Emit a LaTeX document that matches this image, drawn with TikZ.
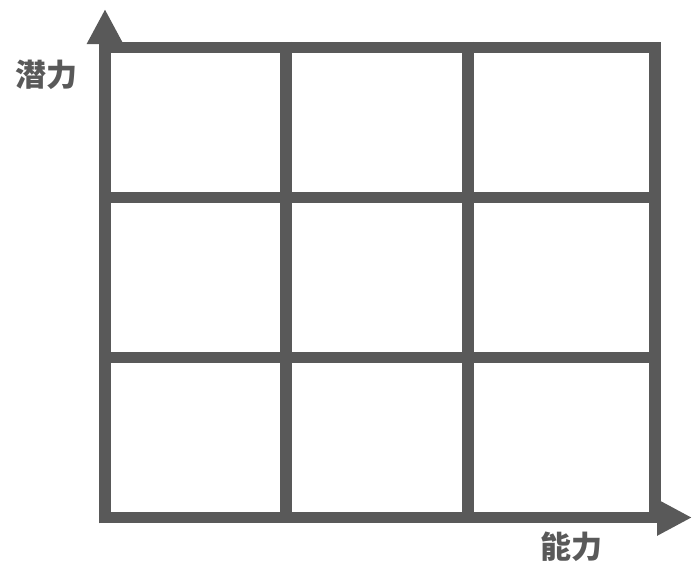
\documentclass[tikz,border=0pt]{standalone}
\usepackage{fontspec}
\newfontfamily\cjk{Noto Sans CJK SC}
\usetikzlibrary{arrows.meta}
\definecolor{gridgray}{HTML}{595959}
\begin{document}
\begin{tikzpicture}[x=1pt,y=-1pt,
  gridline/.style={draw=gridgray,line width=11.5pt,line cap=butt,line join=miter},
  axisline/.style={gridline,-{Triangle[length=35pt,width=34pt]}},
  axislabel/.style={font=\cjk\bfseries\fontsize{31}{31}\selectfont,text=gridgray,inner sep=0pt}]
\useasboundingbox (0,0) rectangle (692,568);
% grid coordinates
\coordinate (tl) at (105,47.5);
\coordinate (br) at (655,517.5);
% outer frame
\draw[gridline] (tl) rectangle (br);
% inner lines
\draw[gridline] (286,41.75) -- (286,523.25);
\draw[gridline] (468,41.75) -- (468,523.25);
\draw[gridline] (99.25,197.5) -- (660.75,197.5);
\draw[gridline] (99.25,357.5) -- (660.75,357.5);
% axes
\coordinate (origin) at (105,523.25);
\coordinate (ytip) at (105,9);
\coordinate (xorigin) at (99.25,517.5);
\coordinate (xtip) at (692,517.5);
\draw[axisline] (origin) -- (ytip);
\draw[axisline] (xorigin) -- (xtip);
% labels
\node[axislabel] (ylab) at (46,75) {潜力};
\node[axislabel] (xlab) at (571,547) {能力};
\end{tikzpicture}
\end{document}
